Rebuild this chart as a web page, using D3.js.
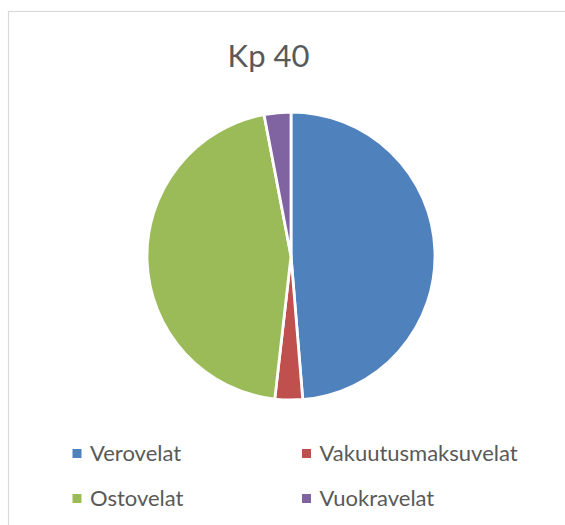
<!DOCTYPE html>
<html><head><meta charset="utf-8">
<script src="https://cdn.jsdelivr.net/npm/d3@7"></script>
<style>body{margin:0;background:#fff}svg{display:block}</style>
</head><body>
<svg id="c" width="565" height="525"></svg>
<script>
const title = "Kp 40";
const categories = ["Verovelat", "Vakuutusmaksuvelat", "Ostovelat", "Vuokravelat"];
const values = [48.7, 3.1, 45.2, 3.0];
const colors = ["#4F81BD", "#C0504D", "#9BBB59", "#8064A2"];

const svg = d3.select("#c");
const font = "Lato, 'Open Sans', sans-serif";
const textColor = "#595959";

svg.append("rect").attr("x", 8.5).attr("y", 11.5).attr("width", 700).attr("height", 700)
  .attr("fill", "#fff").attr("stroke", "#d9d9d9").attr("stroke-width", 1.2);

svg.append("text").attr("x", 268.5).attr("y", 67).attr("text-anchor", "middle")
  .attr("font-family", font).attr("font-size", 31).attr("fill", textColor).text(title);

const cx = 291, cy = 256, r = 144;
const pie = d3.pie().sort(null).value(d => d)(values);
const arc = d3.arc().innerRadius(0).outerRadius(r);
const g = svg.append("g").attr("transform", `translate(${cx},${cy})`);
g.selectAll("path").data(pie).join("path")
  .attr("d", arc).attr("fill", (d, i) => colors[i])
  .attr("stroke", "#fff").attr("stroke-width", 2.8).attr("stroke-linejoin", "round");

const colX = [72.5, 302], rowY = [453.5, 498.5];
const leg = svg.append("g");
categories.forEach((c, i) => {
  const x = colX[i % 2], y = rowY[Math.floor(i / 2)];
  leg.append("rect").attr("x", x).attr("y", y - 4.5).attr("width", 9).attr("height", 9).attr("fill", colors[i]);
  leg.append("text").attr("x", x + 17.5).attr("y", y + 7.5).attr("font-family", font)
    .attr("font-size", 22).attr("fill", textColor).text(c);
});
</script>
</body></html>
